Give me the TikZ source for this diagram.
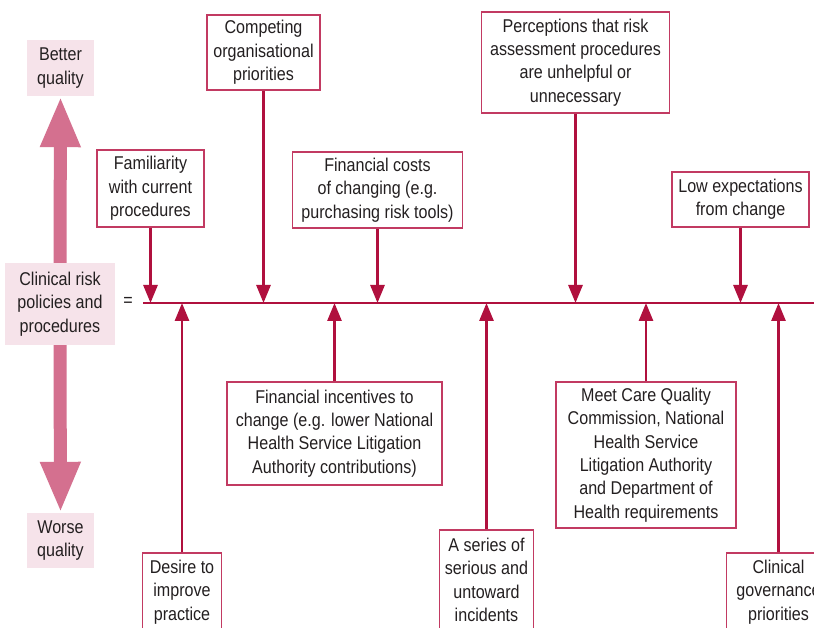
\documentclass[tikz,border=0pt]{standalone}
\usepackage{fontspec}
\setmainfont{Liberation Sans}[FakeStretch=0.87]
\usetikzlibrary{arrows.meta}
\definecolor{crim}{HTML}{B0103E}
\definecolor{boxc}{HTML}{C23A62}
\definecolor{pinkar}{HTML}{D4708F}
\definecolor{pinkbg}{HTML}{F6E3EA}
\definecolor{txt}{HTML}{231F20}
\begin{document}
\begin{tikzpicture}[x=1pt,y=-1pt,
  lbl/.style={font=\fontsize{18.5}{23.3}\selectfont, text=txt, align=center, inner sep=0pt},
  fbox/.style={lbl, draw=boxc, line width=1.3pt, fill=white},
  pbox/.style={lbl, fill=pinkbg},
  conn/.style={draw=crim, line width=2.8pt, -{Triangle[width=14pt,length=18pt]}},
  bigar/.style={draw=pinkar, line width=13pt, -{Triangle[width=37pt,length=51pt]}}]
\clip (0,0) rectangle (814,628);
\fill[white] (0,0) rectangle (814,628);
% left scale
\node[pbox, minimum width=67pt, minimum height=56pt] (better) at (60.5,68) {Better\\quality};
\node[pbox, minimum width=110pt, minimum height=82pt] (clin) at (60,304) {Clinical risk\\policies and\\procedures};
\node[pbox, minimum width=67pt, minimum height=55pt] (worse) at (60.5,540.5) {Worse\\quality};
\draw[bigar] (clin.north) -- (better.south);
\draw[bigar] (clin.south) -- (worse.north);
\node[lbl] (eq) at (128,302) {=};
% main line
\coordinate (ls) at (143,303);
\coordinate (le) at (814,303);
\draw[crim, line width=2.8pt] (ls) -- (le);
% top boxes
\node[fbox, minimum width=107pt, minimum height=77pt] (fam) at (150.5,188.5) {Familiarity\\with current\\procedures};
\node[fbox, minimum width=113pt, minimum height=75pt] (comp) at (263.5,52.5) {Competing\\organisational\\priorities};
\node[fbox, minimum width=170pt, minimum height=76pt] (cost) at (377.5,190) {Financial costs\\of changing (e.g.\\purchasing risk tools)};
\node[fbox, minimum width=188pt, minimum height=101pt] (perc) at (575.5,62.5) {Perceptions that risk\\assessment procedures\\are unhelpful or\\unnecessary};
\node[fbox, minimum width=137pt, minimum height=55pt] (lowx) at (740.5,199.5) {Low expectations\\from change};
% bottom boxes
\node[fbox, minimum width=79pt, minimum height=78pt] (desire) at (182,592) {Desire to\\improve\\practice};
\node[fbox, minimum width=215pt, minimum height=103pt] (incent) at (334.5,433.5) {Financial incentives to\\change (e.g. lower National\\Health Service Litigation\\Authority contributions)};
\node[fbox, minimum width=94pt, minimum height=100pt] (series) at (486.5,580) {A series of\\serious and\\untoward\\incidents};
\node[fbox, minimum width=180pt, minimum height=146pt] (meet) at (646,455) {Meet Care Quality\\Commission, National\\Health Service\\Litigation Authority\\and Department of\\Health requirements};
\node[fbox, minimum width=104pt, minimum height=78pt] (gov) at (778.5,592) {Clinical\\governance\\priorities};
% connectors
\foreach \n in {fam,comp,cost,perc,lowx}
  \draw[conn] (\n.south) -- (\n.south |- ls);
\foreach \n in {desire,incent,series,meet,gov}
  \draw[conn] (\n.north) -- (\n.north |- ls);
\end{tikzpicture}
\end{document}
